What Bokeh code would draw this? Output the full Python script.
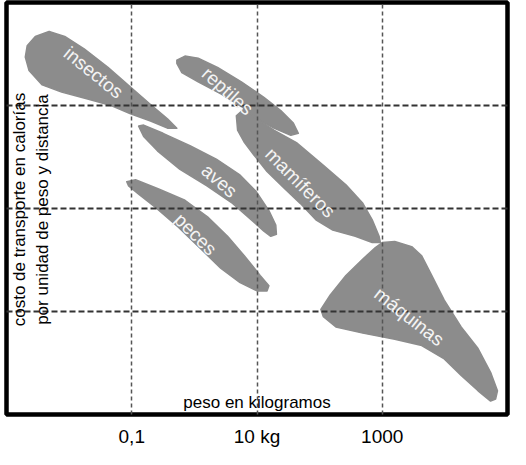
import math
from bokeh.plotting import figure
from bokeh.models import Range1d, FixedTicker, Label, ColumnDataSource
from bokeh.core.properties import value
from bokeh.embed import file_html
from bokeh.resources import INLINE

# x: log10(peso en kg) ; y: costo de transporte (escala relativa del dibujo, 0..4)
tick_values = [-1, 1, 3]
tick_labels = ["0,1", "10 kg", "1000"]
grid_y = [1, 2, 3]

groups = ["insectos", "reptiles", "aves", "peces", "mamíferos", "máquinas"]

insectos_x = [-2.70, -2.67, -2.54, -2.32, -2.07, -1.76, -1.38, -1.02, -0.70, -0.43, -0.28,
              -0.43, -0.70, -1.02, -1.33, -1.69, -2.12, -2.43, -2.64]
insectos_y = [3.47, 3.58, 3.67, 3.72, 3.67, 3.55, 3.37, 3.18, 3.01, 2.87, 2.78,
              2.78, 2.85, 2.92, 3.00, 3.06, 3.13, 3.20, 3.34]

reptiles_x = [-0.28, -0.15, 0.06, 0.37, 0.75, 1.11, 1.38, 1.58, 1.66,
              1.54, 1.27, 1.00, 0.75, 0.43, 0.06, -0.20, -0.28]
reptiles_y = [3.44, 3.48, 3.46, 3.37, 3.23, 3.08, 2.95, 2.83, 2.73,
              2.71, 2.78, 2.87, 2.99, 3.11, 3.23, 3.32, 3.41]

aves_x = [-0.89, -0.81, -0.50, -0.07, 0.35, 0.72, 0.98, 1.19, 1.30, 1.31,
          1.22, 1.11, 0.91, 0.61, 0.20, -0.23, -0.59, -0.81]
aves_y = [2.80, 2.81, 2.73, 2.61, 2.48, 2.33, 2.17, 1.98, 1.84, 1.75,
          1.73, 1.78, 1.89, 2.05, 2.22, 2.38, 2.56, 2.70]

peces_x = [-1.08, -0.94, -0.57, -0.15, 0.21, 0.53, 0.80, 1.05, 1.19, 1.16,
           1.00, 0.73, 0.42, 0.10, -0.26, -0.62, -0.89, -1.05]
peces_y = [2.26, 2.28, 2.19, 2.08, 1.92, 1.73, 1.54, 1.35, 1.25, 1.20,
           1.20, 1.28, 1.42, 1.61, 1.82, 2.01, 2.14, 2.22]

mamiferos_x = [0.67, 0.80, 1.00, 1.27, 1.63, 2.06, 2.42, 2.69, 2.84, 2.95, 2.97,
               2.84, 2.57, 2.21, 1.94, 1.69, 1.43, 1.16, 0.95, 0.80, 0.69]
mamiferos_y = [2.90, 2.97, 2.87, 2.76, 2.64, 2.42, 2.23, 2.05, 1.89, 1.73, 1.67,
               1.67, 1.73, 1.79, 1.89, 2.05, 2.20, 2.36, 2.52, 2.64, 2.76]

maquinas_x = [3.00, 3.20, 3.47, 3.63, 3.79, 3.99, 4.26, 4.53, 4.73, 4.84, 4.81,
              4.73, 4.53, 4.26, 3.99, 3.63, 3.20, 2.69, 2.26, 2.06, 2.02, 2.17, 2.42, 2.69, 2.89]
maquinas_y = [1.67, 1.68, 1.63, 1.54, 1.35, 1.11, 0.85, 0.64, 0.41, 0.23, 0.15,
              0.13, 0.23, 0.38, 0.54, 0.67, 0.73, 0.79, 0.85, 0.95, 1.02, 1.16, 1.35, 1.51, 1.62]

label_x = [-1.61, 0.53, 0.40, 0.02, 1.69, 3.43]
label_y = [3.32, 3.14, 2.27, 1.75, 2.25, 0.95]
label_angle_deg = [-39, -42, -41, -45, -45, -38]

FONT = "Liberation Sans"

p = figure(width=510, height=449, output_backend="svg", toolbar_location=None,
           x_range=Range1d(-3, 5), y_range=Range1d(0, 4), y_axis_location=None,
           min_border_left=6, min_border_right=3, min_border_top=2, min_border_bottom=27,
           background_fill_color="white", border_fill_color="white")

blobs = ColumnDataSource(data=dict(
    xs=[insectos_x, reptiles_x, aves_x, peces_x, mamiferos_x, maquinas_x],
    ys=[insectos_y, reptiles_y, aves_y, peces_y, mamiferos_y, maquinas_y],
    name=groups,
))
p.patches("xs", "ys", source=blobs, fill_color="#8c8c8c", line_color="#8c8c8c",
          line_width=1.5, line_join="round")

labels = ColumnDataSource(data=dict(
    x=label_x, y=label_y, text=groups,
    angle=[math.radians(a) for a in label_angle_deg],
))
p.text("x", "y", text="text", angle="angle", source=labels, level="annotation",
       text_font=value(FONT), text_font_size=value("19px"), text_color="#f4f4f4",
       text_align="center", text_baseline="middle")

# dashed grid drawn above the shapes
p.xgrid.ticker = FixedTicker(ticks=tick_values)
p.ygrid.ticker = FixedTicker(ticks=grid_y)
p.xgrid.grid_line_color = "#555555"
p.xgrid.grid_line_width = 1.5
p.xgrid.grid_line_dash = "4 3"
p.ygrid.grid_line_color = "#333333"
p.ygrid.grid_line_width = 2
p.ygrid.grid_line_dash = "6 3"
p.xgrid.level = "guide"
p.ygrid.level = "guide"

ax = p.xaxis[0]
ax.ticker = FixedTicker(ticks=tick_values)
ax.major_label_overrides = {t: l for t, l in zip(tick_values, tick_labels)}
ax.axis_line_color = None
ax.major_tick_line_color = None
ax.minor_tick_line_color = None
ax.major_label_standoff = 5
ax.major_label_text_font = FONT
ax.major_label_text_font_size = "19px"
ax.major_label_text_font_style = "normal"
ax.major_label_text_color = "black"

p.outline_line_color = "black"
p.outline_line_width = 4.5
p.outline_line_alpha = 1.0

p.add_layout(Label(x=1, y=0.12, text="peso en kilogramos", text_font=FONT,
                   text_font_size="17px", text_color="black",
                   text_align="center", text_baseline="middle"))
p.add_layout(Label(x=-2.79, y=1.99, text="costo de transporte en calorías", angle=math.pi / 2,
                   text_font=FONT, text_font_size="17px", text_color="black",
                   text_align="center", text_baseline="middle"))
p.add_layout(Label(x=-2.42, y=1.99, text="por unidad de peso y distancia", angle=math.pi / 2,
                   text_font=FONT, text_font_size="17px", text_color="black",
                   text_align="center", text_baseline="middle"))

open("out.html", "w").write(file_html(p, INLINE))
